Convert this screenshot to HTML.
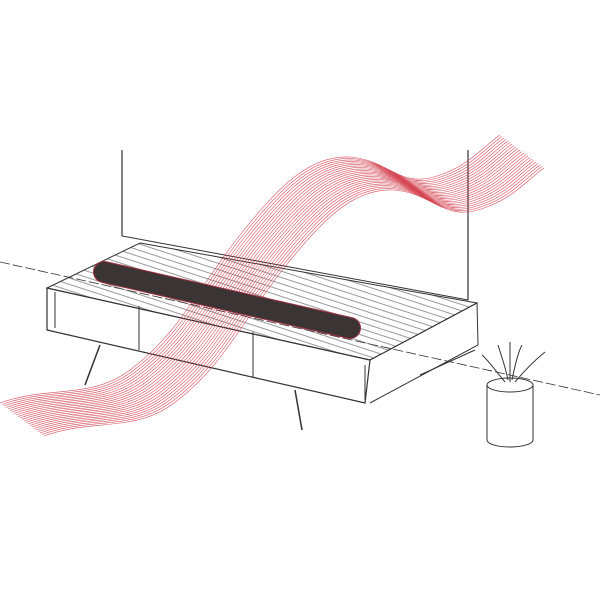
<!DOCTYPE html>
<html><head><style>body{margin:0;background:#fff}svg{display:block}</style></head><body>
<svg width="600" height="600" viewBox="0 0 600 600" xmlns="http://www.w3.org/2000/svg">
<defs>
<path id="w" d="M20,418 C70,400 110,415 150,385 C200,348 220,300 260,250 C300,200 330,170 370,172 C410,175 420,205 460,190 C490,180 505,160 520,150" fill="none" stroke="#d0303f" stroke-width="0.6" opacity="0.85"/>
<pattern id="h" width="6" height="6" patternUnits="userSpaceOnUse" patternTransform="rotate(18)"><line x1="0" y1="3" x2="6" y2="3" stroke="#555" stroke-width="0.6"/></pattern>
</defs>
<line x1="0" y1="262" x2="600" y2="395" stroke="#333" stroke-width="0.8" stroke-dasharray="10 3"/>
<line x1="122" y1="150" x2="122" y2="236" stroke="#333" stroke-width="1.2"/>
<line x1="468" y1="150" x2="468" y2="300" stroke="#333" stroke-width="1.2"/>
<line x1="122" y1="236" x2="468" y2="300" stroke="#333" stroke-width="1"/>
<polygon points="140,243 477,303 370,360 47,288" fill="url(#h)" stroke="#333" stroke-width="1"/>
<path d="M47,288 L47,330 L365,403 L370,360 Z" fill="none" stroke="#333" stroke-width="1.2"/>
<path d="M55,292 L55,328 M365,365 L365,400" stroke="#333" stroke-width="1"/>
<path d="M370,360 L477,303 L478,345 L370,403" fill="none" stroke="#333" stroke-width="1"/>
<line x1="139" y1="306" x2="139" y2="350" stroke="#333"/>
<line x1="253" y1="332" x2="253" y2="377" stroke="#333"/>
<line x1="100" y1="345" x2="85" y2="385" stroke="#333" stroke-width="1.5"/>
<line x1="295" y1="390" x2="302" y2="430" stroke="#333" stroke-width="1.5"/>
<line x1="420" y1="375" x2="475" y2="350" stroke="#333"/>
<g>
<use href="#w"/><use href="#w" transform="translate(2,1.5)"/><use href="#w" transform="translate(4,3)"/><use href="#w" transform="translate(6,4.5)"/><use href="#w" transform="translate(8,6)"/><use href="#w" transform="translate(10,7.5)"/><use href="#w" transform="translate(12,9)"/><use href="#w" transform="translate(14,10.5)"/><use href="#w" transform="translate(16,12)"/><use href="#w" transform="translate(18,13.5)"/><use href="#w" transform="translate(20,15)"/><use href="#w" transform="translate(22,16.5)"/><use href="#w" transform="translate(24,18)"/><use href="#w" transform="translate(-2,-1.5)"/><use href="#w" transform="translate(-4,-3)"/><use href="#w" transform="translate(-6,-4.5)"/><use href="#w" transform="translate(-8,-6)"/><use href="#w" transform="translate(-10,-7.5)"/><use href="#w" transform="translate(-12,-9)"/><use href="#w" transform="translate(-14,-10.5)"/><use href="#w" transform="translate(-16,-12)"/><use href="#w" transform="translate(-18,-13.5)"/><use href="#w" transform="translate(-20,-15)"/>
</g>
<line x1="104" y1="272" x2="350" y2="328" stroke="#a03040" stroke-width="22" stroke-linecap="round"/>
<line x1="104" y1="272" x2="350" y2="328" stroke="#3a3434" stroke-width="20" stroke-linecap="round"/>
<path d="M487,385 L487,440 A23,7 0 0 0 533,440 L533,385" fill="#fff" stroke="#333"/>
<ellipse cx="510" cy="385" rx="23" ry="7" fill="#fff" stroke="#333"/>
<g stroke="#333" fill="none">
<path d="M505,382 C495,370 488,360 482,355"/><path d="M508,380 C505,365 500,352 498,345"/><path d="M512,380 C515,365 518,352 522,345"/><path d="M515,382 C525,370 535,360 545,352"/><path d="M510,382 C510,365 510,355 510,342"/>
</g>
</svg>
</body></html>
